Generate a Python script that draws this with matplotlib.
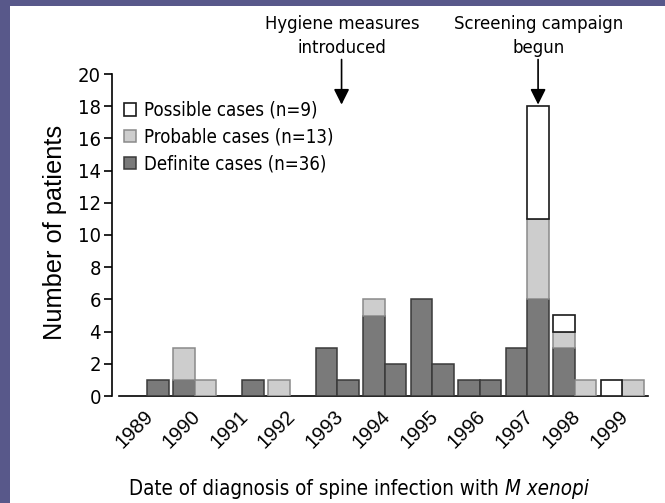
import matplotlib
matplotlib.use('Agg')
import matplotlib.pyplot as plt
import numpy as np
from matplotlib.patches import Rectangle
from matplotlib import font_manager as fm

# ---- data (half-year periods, 1989 H1 ... 1999 H2) ----
years = ['1989', '1990', '1991', '1992', '1993', '1994', '1995', '1996', '1997', '1998', '1999']
definite = [0, 1, 1, 0, 0, 1, 0, 0, 3, 1, 5, 2, 6, 2, 1, 1, 3, 6, 3, 0, 0, 0]
probable = [0, 0, 2, 1, 0, 0, 1, 0, 0, 0, 1, 0, 0, 0, 0, 0, 0, 5, 1, 1, 0, 1]
possible = [0, 0, 0, 0, 0, 0, 0, 0, 0, 0, 0, 0, 0, 0, 0, 0, 0, 7, 1, 0, 1, 0]
legend_labels = ['Possible cases (n=9)', 'Probable cases (n=13)', 'Definite cases (n=36)']
yticks = list(range(0, 21, 2))

# pick a condensed sans font if one is installed
cond = None
prefs = ['Liberation Sans Narrow', 'Arial Narrow', 'DejaVu Sans', 'Noto Sans', 'Roboto Condensed',
         'Roboto', 'Open Sans Condensed', 'Open Sans']
for name in prefs:
    for f in fm.fontManager.ttflist:
        st = str(f.stretch)
        if f.name == name and ('Narrow' in name or 'Condensed' in name or st in ('condensed', 'semi-condensed', 'extra-condensed')
                               or (st.isdigit() and int(st) < 500)) and f.style == 'normal':
            cond = (name, 'condensed' if not ('Narrow' in name or 'Condensed' in name) else 'normal')
            break
    if cond:
        break
if cond is None:
    cond = ('Liberation Sans', 'normal')
NFAM, NSTR = cond
REG = ['Liberation Sans', 'DejaVu Sans']
NCOND = dict(family=[NFAM, 'DejaVu Sans'], fontstretch=NSTR)

W, H = 665, 503
fig = plt.figure(figsize=(W / 100, H / 100), dpi=100)
fig.patch.set_facecolor('#58588a')
fig.patches.append(Rectangle((10 / W, 0), 1 - 10 / W, 1 - 6 / H, transform=fig.transFigure,
                             facecolor='white', edgecolor='none', zorder=-5))

def fx(px):
    return px / W

def fy(py):
    return 1 - py / H

ax = fig.add_axes([fx(112), fy(396), fx(648.4) - fx(112), fy(74) - fy(396)])
ax.set_facecolor('none')
ax.set_zorder(2)

d = np.array(definite, float)
p = np.array(probable, float)
q = np.array(possible, float)
k = np.arange(len(definite))
bw = 0.455
xpos = k // 2 + np.where(k % 2 == 0, -bw / 2, bw / 2)

m = d > 0
bd = ax.bar(xpos[m], d[m], width=bw, color='#7a7a7a', edgecolor='#3a3a3a', linewidth=1.1, zorder=3)
m = p > 0
bp = ax.bar(xpos[m], p[m], bottom=d[m], width=bw, color='#cdcdcd', edgecolor='#8a8a8a', linewidth=1.1, zorder=3)
m = q > 0
bq = ax.bar(xpos[m], q[m], bottom=(d + p)[m], width=bw, color='white', edgecolor='#1a1a1a', linewidth=1.2, zorder=3)

ax.set_xlim(-0.743, 10.55)
ax.set_ylim(0, 20)
for s in ['top', 'right']:
    ax.spines[s].set_visible(False)
ax.spines['left'].set_bounds(0, 20)
ax.spines['bottom'].set_bounds(-0.6, 10.535)
ax.spines['left'].set_linewidth(1.2)
ax.spines['bottom'].set_linewidth(1.2)
ax.spines['bottom'].set_zorder(2)

ax.set_yticks(yticks)
ax.set_yticklabels([str(v) for v in yticks], fontsize=14.5, **NCOND)
ax.tick_params(axis='y', length=6, width=1.2, pad=2, direction='out')
ax.set_xticks(np.arange(len(years)) + 0.2)
ax.set_xticklabels(years, rotation=45, ha='right', va='top', family=REG, fontsize=14.5)
ax.tick_params(axis='x', length=0, pad=8)

fig.text(fx(55), fy(232), 'Number of patients', rotation=90, ha='center', va='center',
         family=REG, fontsize=18.3)

# x label with italic species name
XFS = 14.8
t1 = fig.text(0, fy(495), 'Date of diagnosis of spine infection with ', ha='left', va='baseline',
              fontsize=XFS, **NCOND)
t2 = fig.text(0, fy(495), 'M xenopi', ha='left', va='baseline', fontsize=XFS, style='italic', **NCOND)
fig.canvas.draw()
r = fig.canvas.get_renderer()
w1 = t1.get_window_extent(r).width
w2 = t2.get_window_extent(r).width
x0 = 359 - (w1 + w2) / 2
t1.set_x(fx(x0))
t2.set_x(fx(x0 + w1))

# annotations
for cx, l1, l2, ax_x in [(342, 'Hygiene measures', 'introduced', 4.09),
                         (538.6, 'Screening campaign', 'begun', 8.2275)]:
    fig.text(fx(cx), fy(29), l1, ha='center', va='baseline', fontsize=13.2, **NCOND)
    fig.text(fx(cx), fy(53), l2, ha='center', va='baseline', fontsize=13.2, **NCOND)
    ax.annotate('', xy=(ax_x, 18.1), xytext=(ax_x, 20.9),
                arrowprops=dict(arrowstyle='-|>,head_length=0.5,head_width=0.25', color='black',
                                lw=1.2, mutation_scale=18.7, shrinkA=0, shrinkB=0),
                annotation_clip=False)

leg = ax.legend([bq, bp, bd], legend_labels, loc='upper left',
                bbox_to_anchor=(fx(124), fy(101)), bbox_transform=fig.transFigure,
                frameon=False, borderpad=0, borderaxespad=0, handlelength=0.65, handleheight=0.65,
                handletextpad=0.45, labelspacing=0.42,
                prop=fm.FontProperties(family=[NFAM, 'DejaVu Sans'], stretch=NSTR, size=13.4))

fig.savefig('out.png', dpi=100, facecolor=fig.get_facecolor())
